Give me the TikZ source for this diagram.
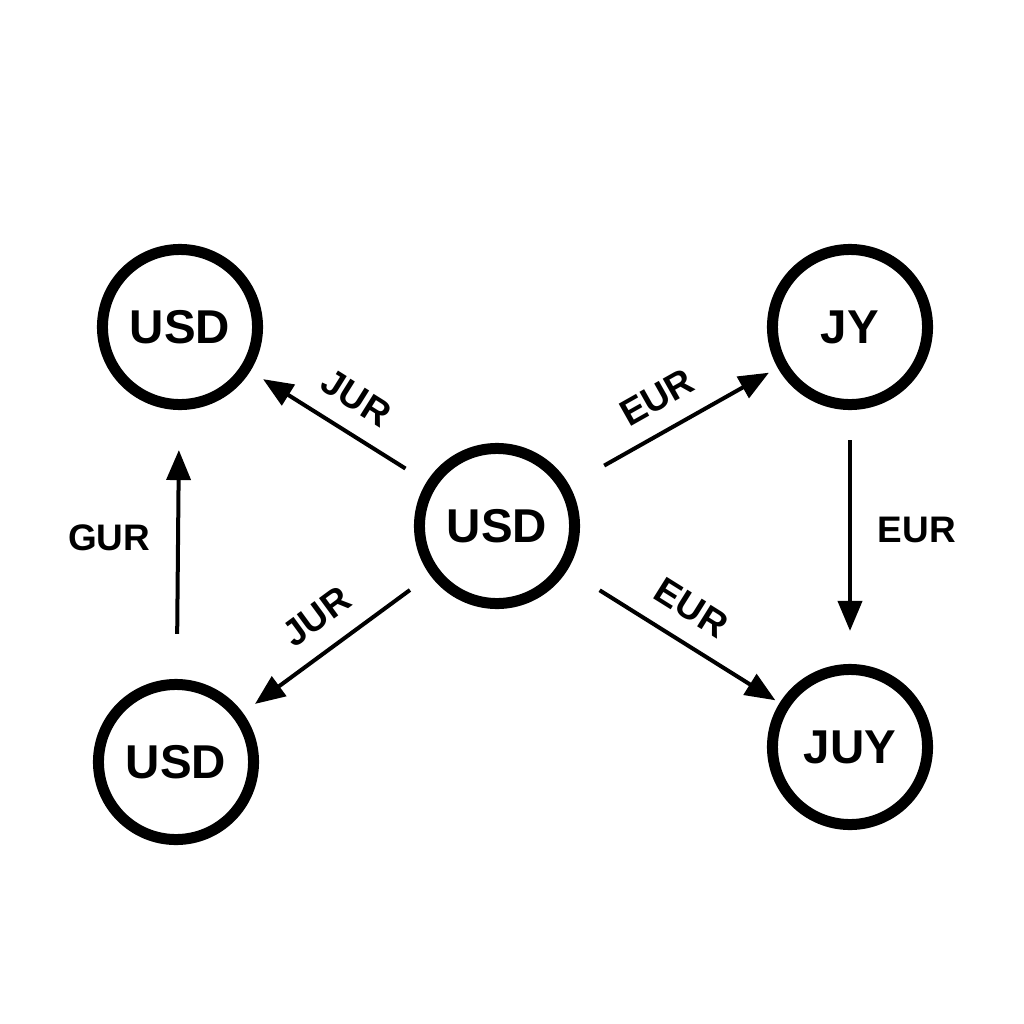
\documentclass[tikz,border=0pt]{standalone}
\usepackage{fontspec}
\setmainfont{Liberation Sans}
\usetikzlibrary{arrows.meta}

\begin{document}
\begin{tikzpicture}[x=0.01cm, y=-0.01cm,
		every node/.style={font=\bfseries},
		currency/.style={draw, circle, line width=0.11cm, minimum size=1.55cm, inner sep=0pt, font=\fontsize{13.5}{13.5}\bfseries},
		trade/.style={line width=0.04cm, -{Triangle[length=0.3cm,width=0.24cm]}},
		rate/.style={font=\fontsize{10.5}{10.5}\bfseries, sloped, above=2pt}]
	\useasboundingbox (0,0) rectangle (1024,1024);
	% nodes
	\node[currency] (hub) at (497,526) {USD};
	\node[currency] (usdA) at (180,327) {USD};
	\node[currency] (usdB) at (176,762) {USD};
	\node[currency] (jy) at (850,327) {JY};
	\node[currency] (juy) at (850,747) {JUY};
	% edges
	\draw[trade, shorten <=0.25cm, shorten >=0.15cm] (hub) -- node[rate] {JUR} (usdA);
	\draw[trade, shorten <=0.4cm, shorten >=0.1cm] (hub) -- node[rate] {EUR} (jy);
	\draw[trade, shorten <=0.25cm, shorten >=0.15cm] (hub) -- node[rate] {JUR} (usdB);
	\draw[trade, shorten <=0.38cm, shorten >=0.05cm] (hub) -- node[rate] {EUR} (juy);
	\draw[trade, shorten <=0.45cm, shorten >=0.4cm] (usdB) -- node[rate, sloped=false, left=4pt] {GUR} (usdA);
	\draw[trade, shorten <=0.3cm, shorten >=0.33cm] (jy) -- node[rate, sloped=false, right=4pt] {EUR} (juy);
\end{tikzpicture}
\end{document}
